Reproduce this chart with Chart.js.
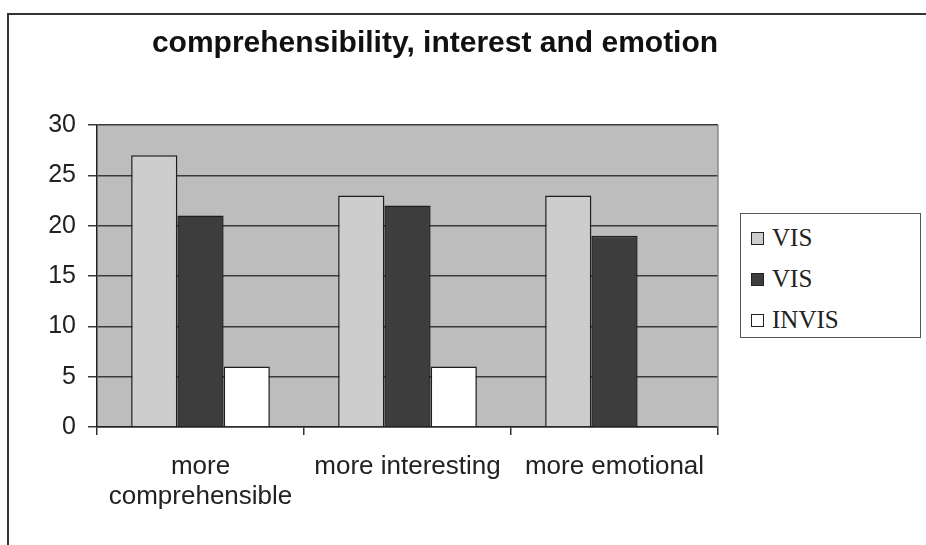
<!DOCTYPE html>
<html>
<head>
<meta charset="utf-8">
<script src="https://cdn.jsdelivr.net/npm/chart.js@4"></script>
<style>
  html, body { margin: 0; padding: 0; background: #fff; }
  body { width: 926px; height: 545px; position: relative; overflow: hidden; }
  #frame { position: absolute; left: 7px; top: 13px; right: -10px; bottom: -10px;
           border-top: 2px solid #333; border-left: 2px solid #333; }
  #wrap { position: absolute; left: 0; top: 0; width: 926px; height: 545px; }
  #legend { position: absolute; left: 740px; top: 213px; width: 179px; height: 123px;
            border: 1px solid #555; background: #fff; font-family: "Liberation Serif", "Times New Roman", serif;
            font-size: 25px; color: #222; }
  #legend .item { position: absolute; left: 10px; height: 30px; line-height: 30px; }
  #legend .sw { display: inline-block; width: 11px; height: 11px; border: 1px solid #222;
                margin-right: 8px; vertical-align: 1px; }
</style>
</head>
<body>
<div id="frame"></div>
<div id="wrap"><canvas id="chart" width="926" height="545"></canvas></div>
<div id="legend"></div>
<script>
const categories = [['more', 'comprehensible'], 'more interesting', 'more emotional'];
const seriesNames = ['VIS', 'VIS', 'INVIS'];
const visLight = [27, 23, 23];
const visDark = [21, 22, 19];
const invis = [6, 6, null];
const yTicks = [0, 5, 10, 15, 20, 25, 30];

const barColors = ['#cdcdcd', '#3d3d3d', '#ffffff'];
const chartEl = document.getElementById('chart');

// plot background + right border of the plot area
const plotBackground = {
  id: 'plotBackground',
  beforeDraw(chart) {
    const {ctx, chartArea} = chart;
    ctx.save();
    ctx.fillStyle = '#bdbdbd';
    ctx.fillRect(chartArea.left, chartArea.top, chartArea.right - chartArea.left, chartArea.bottom - chartArea.top);
    ctx.restore();
  },
  afterDraw(chart) {
    const {ctx, chartArea} = chart;
    ctx.save();
    ctx.strokeStyle = '#8a8a8a';
    ctx.lineWidth = 1.5;
    ctx.beginPath();
    ctx.moveTo(chartArea.right, chartArea.top);
    ctx.lineTo(chartArea.right, chartArea.bottom);
    ctx.stroke();
    ctx.restore();
  }
};

// centre the title over the left part of the picture (legend sits on the right)
const titleShift = {
  id: 'titleShift',
  afterLayout(chart) {
    if (chart.titleBlock) {
      chart.titleBlock.left = 0;
      chart.titleBlock.right = 870;
      chart.titleBlock.width = 870;
    }
  }
};

new Chart(chartEl, {
  type: 'bar',
  data: {
    labels: categories,
    datasets: [visLight, visDark, invis].map((d, i) => ({
      label: seriesNames[i],
      data: d,
      backgroundColor: barColors[i],
      borderColor: '#1e1e1e',
      borderWidth: 1.5,
      categoryPercentage: 0.67,
      barPercentage: 1.0
    }))
  },
  options: {
    responsive: false,
    animation: false,
    layout: { padding: { left: 0, right: 208, top: 0, bottom: 0 } },
    plugins: {
      legend: { display: false },
      tooltip: { enabled: false },
      title: {
        display: true,
        text: 'comprehensibility, interest and emotion',
        color: '#111',
        font: { family: '"Liberation Sans", Arial, sans-serif', size: 30, weight: 'bold', lineHeight: 1.2 },
        padding: { top: 26, bottom: 63 }
      }
    },
    scales: {
      x: {
        grid: { display: true, drawOnChartArea: false, drawTicks: true, tickLength: 8, color: '#333', lineWidth: 1.5, offset: true },
        border: { display: true, color: '#222', width: 1.5 },
        ticks: {
          color: '#222',
          padding: 17,
          maxRotation: 0,
          autoSkip: false,
          font: { family: '"Liberation Sans", Arial, sans-serif', size: 26, lineHeight: 1.14 }
        },
        afterFit(scale) { scale.height = 118; }
      },
      y: {
        min: 0,
        max: 30,
        afterBuildTicks(scale) { scale.ticks = yTicks.map(v => ({ value: v })); },
        grid: { color: '#3a3a3a', lineWidth: 1.5, drawTicks: true, tickLength: 9 },
        border: { display: true, color: '#222', width: 1.5 },
        ticks: {
          color: '#222',
          padding: 12,
          font: { family: '"Liberation Sans", Arial, sans-serif', size: 25 }
        },
        afterFit(scale) { scale.width = 97; }
      }
    }
  },
  plugins: [plotBackground, titleShift]
});

// legend box built from the same names and colours
const legendEl = document.getElementById('legend');
const legendTops = [9, 50, 91];
seriesNames.forEach((name, i) => {
  const item = document.createElement('div');
  item.className = 'item';
  item.style.top = legendTops[i] + 'px';
  const sw = document.createElement('span');
  sw.className = 'sw';
  sw.style.background = barColors[i];
  item.appendChild(sw);
  item.appendChild(document.createTextNode(name));
  legendEl.appendChild(item);
});
</script>
</body>
</html>
